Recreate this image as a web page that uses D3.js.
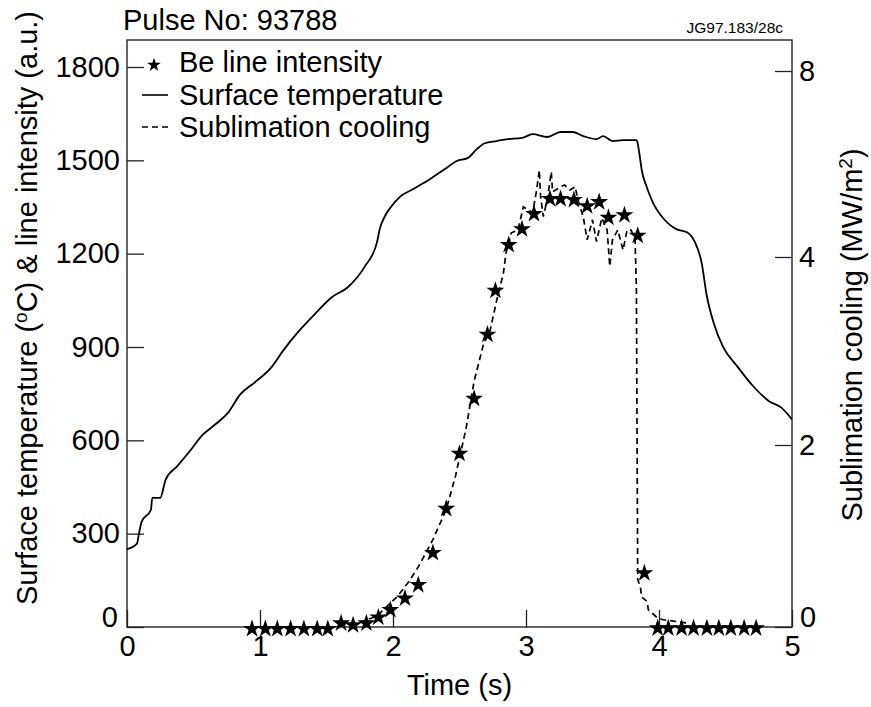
<!DOCTYPE html>
<html>
<head>
<meta charset="utf-8">
<script src="https://d3js.org/d3.v7.min.js"></script>
<style>
body { margin: 0; background: #fff; }
text { font-family: "Liberation Sans", Arial, sans-serif; fill: #000; }
</style>
</head>
<body>
<div id="container"></div>
<script>
// surface temperature (degC) vs time (s)
var tempTime = [0.00, 0.075, 0.09, 0.11, 0.18, 0.19, 0.25, 0.29, 0.38, 0.47, 0.57, 0.66, 0.76, 0.85, 0.96,
  1.09, 1.17, 1.29, 1.41, 1.54, 1.66, 1.79, 1.88, 1.90, 1.94, 1.99, 2.05, 2.15, 2.28, 2.39, 2.48, 2.56,
  2.63, 2.69, 2.78, 2.86, 2.97, 3.05, 3.16, 3.26, 3.35, 3.43, 3.53, 3.58, 3.65, 3.73, 3.83, 3.837, 3.852,
  3.870, 3.907, 3.957, 4.032, 4.13, 4.21, 4.27, 4.32, 4.36, 4.41, 4.48, 4.59, 4.71, 4.83, 4.92, 5.00];
var tempValue = [250, 268, 300, 338, 377, 415, 415, 473, 518, 564, 618, 650, 689, 747, 786,
  837, 886, 950, 1005, 1060, 1092, 1160, 1237, 1279, 1321, 1353, 1382, 1407, 1440, 1472, 1498, 1507,
  1536, 1555, 1562, 1568, 1572, 1584, 1575, 1591, 1591, 1578, 1568, 1578, 1562, 1565, 1565, 1560, 1523,
  1469, 1415, 1362, 1314, 1279, 1269, 1237, 1172, 1063, 979, 902, 837, 773, 725, 705, 667];

// Be line intensity (a.u.)
var beTime = [0.94, 1.04, 1.13, 1.23, 1.33, 1.43, 1.51, 1.61, 1.70, 1.80, 1.89, 1.98, 2.09, 2.19,
  2.30, 2.40, 2.50, 2.61, 2.71, 2.77, 2.87, 2.97, 3.06, 3.18, 3.26, 3.36, 3.46, 3.55, 3.62, 3.74, 3.84,
  3.89, 3.99, 4.07, 4.17, 4.26, 4.36, 4.45, 4.54, 4.64, 4.73];
var beValue = [-6, -6, -6, -6, -6, -6, -6, 12, 6, 12, 31, 55, 92, 135,
  238, 380, 557, 734, 940, 1081, 1228, 1279, 1328, 1376, 1376, 1373, 1353, 1366, 1316, 1324, 1258,
  173, -4, -4, -4, -4, -4, -4, -4, -4, -4];

// sublimation cooling (MW/m2)
var coolTime = [1.60, 1.75, 1.88, 1.97, 2.03, 2.12, 2.19, 2.30, 2.40, 2.47, 2.55, 2.61, 2.68, 2.73, 2.78,
  2.83, 2.85, 2.89, 2.94, 2.98, 3.02, 3.05, 3.08, 3.10, 3.11, 3.13, 3.16, 3.19, 3.20, 3.26, 3.29, 3.33,
  3.37, 3.39, 3.43, 3.46, 3.50, 3.53, 3.57, 3.61, 3.63, 3.65, 3.69, 3.73, 3.76, 3.79, 3.82, 3.83, 3.84,
  3.86, 3.87, 3.91, 3.92, 3.98, 4.03, 4.13, 4.23];
var coolValue = [0.02, 0.05, 0.12, 0.25, 0.33, 0.50, 0.66, 0.96, 1.29, 1.66, 2.18, 2.68, 3.07, 3.22, 3.54,
  3.83, 4.09, 4.52, 4.58, 5.08, 5.01, 4.95, 5.44, 5.87, 5.30, 4.87, 5.23, 5.83, 5.40, 5.51, 5.55, 5.44,
  5.51, 5.23, 4.87, 4.37, 4.80, 4.33, 4.84, 4.58, 3.90, 4.37, 4.58, 4.15, 4.58, 4.58, 4.37, 3.68, 0.52,
  0.44, 0.33, 0.28, 0.19, 0.11, 0.08, 0.06, 0.04];

var xTicks = [0, 1, 2, 3, 4, 5];
var leftTicks = [0, 300, 600, 900, 1200, 1500, 1800];
var rightTicks = [0, 2, 4, 8];

var width = 871, height = 707;
var margin = {left: 127, right: 79, top: 40, bottom: 80};
var plotBottom = height - margin.bottom;

var svg = d3.select("#container").append("svg")
  .attr("width", width)
  .attr("height", height);

var x = d3.scaleLinear().domain([0, 5]).range([margin.left, width - margin.right]);
var yL = d3.scaleLinear().domain([0, 1800]).range([plotBottom, 67]);
// the right axis in the original is not evenly spaced
var yR = d3.scaleLinear().domain(rightTicks).range([plotBottom, 445, 257, 71]);

// frame
svg.append("rect")
  .attr("x", margin.left).attr("y", margin.top)
  .attr("width", width - margin.left - margin.right)
  .attr("height", plotBottom - margin.top)
  .attr("fill", "none").attr("stroke", "#333").attr("stroke-width", 1.5);

function styleAxis(g) {
  g.select(".domain").remove();
  g.attr("font-size", 29).attr("font-family", "Liberation Sans, Arial, sans-serif");
  g.selectAll(".tick line").attr("stroke", "#222").attr("stroke-width", 1.3);
  g.selectAll(".tick text").attr("fill", "#000");
}

var fmt = d3.format("d");

var xAxis = svg.append("g")
  .attr("transform", "translate(0," + plotBottom + ")")
  .call(d3.axisBottom(x).tickValues(xTicks).tickFormat(fmt).tickSizeInner(-17).tickSizeOuter(0).tickPadding(8));
styleAxis(xAxis);

var leftAxis = svg.append("g")
  .attr("transform", "translate(" + margin.left + ",0)")
  .call(d3.axisLeft(yL).tickValues(leftTicks).tickFormat(fmt).tickSizeInner(-17).tickSizeOuter(0).tickPadding(7));
styleAxis(leftAxis);

var rightAxis = svg.append("g")
  .attr("transform", "translate(" + (width - margin.right) + ",0)")
  .call(d3.axisRight(yR).tickValues(rightTicks).tickFormat(fmt).tickSizeInner(-17).tickSizeOuter(0).tickPadding(7));
styleAxis(rightAxis);

// zero labels sit a bit above the corner
leftAxis.selectAll(".tick text").filter(d => d === 0).attr("transform", "translate(-2,-10)");
rightAxis.selectAll(".tick text").filter(d => d === 0).attr("transform", "translate(1,-10)");

// surface temperature
var tempData = tempTime.map((t, i) => [t, tempValue[i]]);
svg.append("path")
  .datum(tempData)
  .attr("fill", "none").attr("stroke", "#000").attr("stroke-width", 1.8)
  .attr("d", d3.line().x(d => x(d[0])).y(d => yL(d[1])).curve(d3.curveMonotoneX));

// sublimation cooling
var coolData = coolTime.map((t, i) => [t, coolValue[i]]);
svg.append("path")
  .datum(coolData)
  .attr("fill", "none").attr("stroke", "#000").attr("stroke-width", 1.7)
  .attr("stroke-dasharray", "6,4")
  .attr("d", d3.line().x(d => x(d[0])).y(d => yR(d[1])));

// Be line intensity
var star = d3.symbol().type(d3.symbolStar).size(100);
svg.selectAll(".be")
  .data(beTime.map((t, i) => [t, beValue[i]]))
  .enter().append("path")
  .attr("class", "be")
  .attr("transform", d => "translate(" + x(d[0]) + "," + yL(d[1]) + ")")
  .attr("d", star)
  .attr("fill", "#000");

// legend
var legend = svg.append("g");
legend.append("path")
  .attr("transform", "translate(154,65)")
  .attr("d", d3.symbol().type(d3.symbolStar).size(60))
  .attr("fill", "#000");
legend.append("line").attr("x1", 142).attr("x2", 168).attr("y1", 95).attr("y2", 95)
  .attr("stroke", "#000").attr("stroke-width", 1.6);
legend.append("line").attr("x1", 142).attr("x2", 168).attr("y1", 127).attr("y2", 127)
  .attr("stroke", "#000").attr("stroke-width", 1.6).attr("stroke-dasharray", "6,4");
var legendLabels = ["Be line intensity", "Surface temperature", "Sublimation cooling"];
legend.selectAll(".leg")
  .data(legendLabels)
  .enter().append("text")
  .attr("x", 179)
  .attr("y", (d, i) => 72 + i * 32.5)
  .attr("font-size", 29)
  .text(d => d);

// titles
svg.append("text")
  .attr("x", 123).attr("y", 30)
  .attr("font-size", 29)
  .text("Pulse No: 93788");

svg.append("text")
  .attr("x", 783).attr("y", 33)
  .attr("text-anchor", "end")
  .attr("font-size", 15.5)
  .text("JG97.183/28c");

svg.append("text")
  .attr("x", (margin.left + width - margin.right) / 2)
  .attr("y", 695)
  .attr("text-anchor", "middle")
  .attr("font-size", 29)
  .text("Time (s)");

var yTitle = svg.append("text")
  .attr("transform", "translate(37,308) rotate(-90)")
  .attr("text-anchor", "middle")
  .attr("font-size", 29);
yTitle.append("tspan").text("Surface temperature (");
yTitle.append("tspan").attr("dy", -10).attr("font-size", 19).text("o");
yTitle.append("tspan").attr("dy", 10).text("C) & line intensity (a.u.)");

var y2Title = svg.append("text")
  .attr("transform", "translate(862,335) rotate(-90)")
  .attr("text-anchor", "middle")
  .attr("font-size", 29);
y2Title.append("tspan").text("Sublimation cooling (MW/m");
y2Title.append("tspan").attr("dy", -10).attr("font-size", 19).text("2");
y2Title.append("tspan").attr("dy", 10).text(")");
</script>
</body>
</html>
